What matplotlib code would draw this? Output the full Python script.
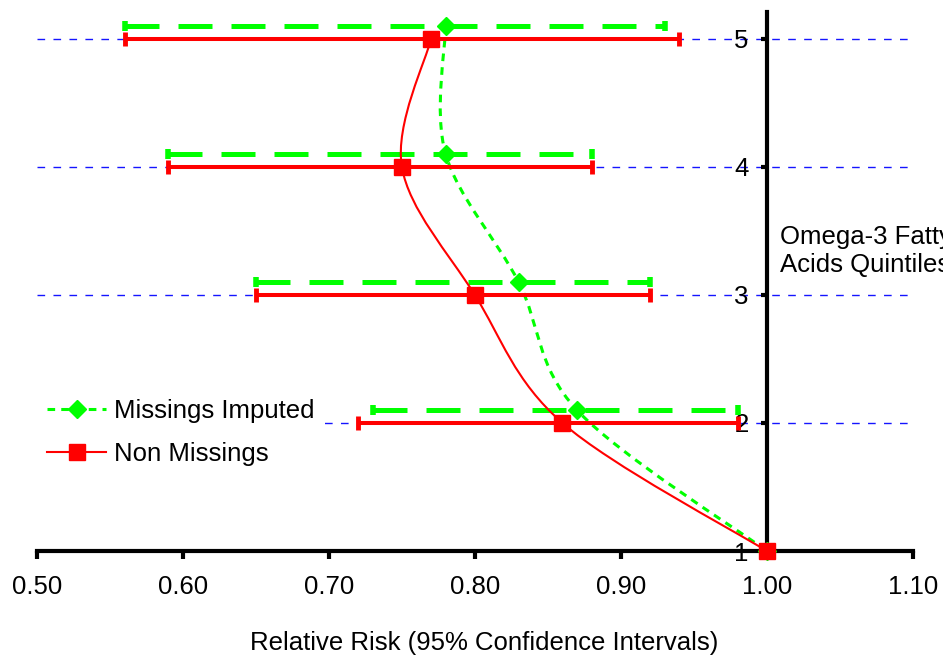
import numpy as np
import matplotlib
matplotlib.use('Agg')
import matplotlib.pyplot as plt
from matplotlib.path import Path
from matplotlib.patches import PathPatch
from matplotlib.lines import Line2D

plt.rcParams['font.family'] = ['Liberation Sans', 'DejaVu Sans']

# quintiles
quint = [5, 4, 3, 2, 1]

# non missings: relative risk and 95% CI
rr_non = [0.77, 0.75, 0.80, 0.86, 1.00]
lo_non = [0.56, 0.59, 0.65, 0.72]
hi_non = [0.94, 0.88, 0.92, 0.98]

# missings imputed (drawn slightly above the quintile line)
rr_imp = [0.78, 0.78, 0.83, 0.87, 1.00]
lo_imp = [0.56, 0.59, 0.65, 0.73]
hi_imp = [0.93, 0.88, 0.92, 0.98]
y_imp = [5.1, 4.1, 3.1, 2.1, 1.0]

xticks = [0.5, 0.6, 0.7, 0.8, 0.9, 1.0, 1.1]

GREEN = '#00ff00'
RED = '#ff0000'
FS = 18.5


def smooth_path(xs, ys):
    # catmull-rom curve through the points, drawn as bezier segments
    p = np.column_stack([xs, ys]).astype(float)
    p = np.vstack([p[0], p, p[-1]])
    verts = [p[1]]
    codes = [Path.MOVETO]
    for i in range(1, len(p) - 2):
        c1 = p[i] + (p[i + 1] - p[i - 1]) / 6.0
        c2 = p[i + 1] - (p[i + 2] - p[i]) / 6.0
        verts += [c1, c2, p[i + 1]]
        codes += [Path.CURVE4] * 3
    return Path(verts, codes)


fig = plt.figure(figsize=(9.43, 6.61), dpi=100)
ax = fig.add_axes([0.0392, 0.1664, 0.9287, 0.8154])
ax.set_xlim(0.5, 1.1)
ax.set_ylim(1, 5.21)

for q in [2, 3, 4, 5]:
    ax.axhline(q, color='#1515ff', lw=1.0, dashes=(5.5, 6), zorder=1)

# green dashed CI bars
for i in range(4):
    ax.plot([lo_imp[i], hi_imp[i]], [y_imp[i], y_imp[i]], color=GREEN, lw=3.6,
            dashes=(6.8, 3.8), dash_capstyle='butt', zorder=2)
    ax.plot([lo_imp[i], hi_imp[i]], [y_imp[i], y_imp[i]], ls='none', marker='|',
            ms=7, mew=4, color=GREEN, zorder=2)

# red CI bars
for i in range(4):
    ax.plot([lo_non[i], hi_non[i]], [quint[i], quint[i]], color=RED, lw=2.9,
            solid_capstyle='butt', zorder=4)
    ax.plot([lo_non[i], hi_non[i]], [quint[i], quint[i]], ls='none', marker='|',
            ms=10, mew=3.5, color=RED, zorder=4)

# smoothed connecting lines
ax.add_patch(PathPatch(smooth_path(rr_imp, y_imp), fill=False, edgecolor=GREEN,
                       lw=2.2, linestyle=(0, (2.5, 2)), zorder=3))
ax.add_patch(PathPatch(smooth_path(rr_non, quint), fill=False, edgecolor=RED,
                       lw=1.5, zorder=5))

ax.plot(rr_imp, y_imp, ls='none', marker='D', ms=9.5, color=GREEN, mec=GREEN,
        zorder=3, clip_on=False)
ax.plot(rr_non, quint, ls='none', marker='s', ms=12, color=RED, mec=RED,
        zorder=6, clip_on=False)

# axes styling
for s in ['top', 'right']:
    ax.spines[s].set_visible(False)
ax.spines['left'].set_position(('data', 1.0))
ax.spines['left'].set_linewidth(3)
ax.spines['bottom'].set_linewidth(3)
ax.spines['left'].set_zorder(2.5)
ax.spines['bottom'].set_zorder(2.5)

ax.set_xticks(xticks)
ax.set_xticklabels(['%.2f' % t for t in xticks])
ax.set_yticks(quint[::-1])
ax.tick_params(axis='x', direction='out', length=6, width=3, pad=11, labelsize=FS)
ax.tick_params(axis='y', direction='out', length=4, width=3, pad=9, labelsize=FS)

fig.text(780 / 943, 1 - 251 / 661, 'Omega-3 Fatty\nAcids Quintiles', fontsize=FS,
         ha='left', va='center', linespacing=1.2)
fig.text(484 / 943, 1 - 643 / 661, 'Relative Risk (95% Confidence Intervals)',
         fontsize=FS, ha='center', va='center')

h1 = Line2D([], [], color=GREEN, lw=2.2, linestyle=(0, (2.5, 2)), marker='D',
            ms=9.5, mec=GREEN)
h2 = Line2D([], [], color=RED, lw=1.5, marker='s', ms=12, mec=RED)
leg = ax.legend([h1, h2], ['Missings Imputed', 'Non Missings'], loc='upper left',
                bbox_to_anchor=(0.0, 0.302), frameon=True, fontsize=FS,
                handlelength=2.3, handletextpad=0.28, borderaxespad=0.0,
                labelspacing=0.75, fancybox=False)
leg.get_frame().set_facecolor('white')
leg.get_frame().set_edgecolor('none')
leg.get_frame().set_alpha(1)
leg.set_zorder(1.5)

fig.savefig('out.png', dpi=100)
